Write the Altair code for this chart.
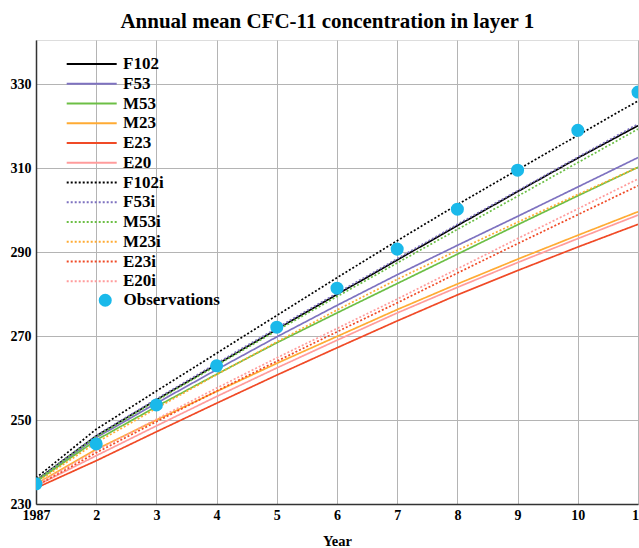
import altair as alt
import pandas as pd

years = list(range(1, 12))
year_labels = ["1987", "2", "3", "4", "5", "6", "7", "8", "9", "10", "11"]

series_names = ["F102", "F53", "M53", "M23", "E23", "E20",
                "F102i", "F53i", "M53i", "M23i", "E23i", "E20i"]
series_colors = ["#000000", "#7e72c0", "#6cbf45", "#ffab33", "#f04a26", "#ff9c9c",
                 "#000000", "#7e72c0", "#6cbf45", "#ffab33", "#f04a26", "#ff9c9c"]

F102 = [235.6, 246.2, 254.8, 263.2, 271.6, 279.9, 288.1, 296.3, 304.4, 312.4, 320.1]
F53 = [235.4, 245.8, 254.0, 262.0, 269.8, 277.3, 284.6, 291.6, 298.5, 305.5, 312.5]
M53 = [235.3, 245.2, 253.2, 260.9, 268.4, 275.5, 282.5, 289.5, 296.5, 303.4, 310.2]
M23 = [234.8, 243.0, 250.0, 256.8, 263.5, 269.9, 276.3, 282.4, 288.3, 294.0, 299.6]
E23 = [233.8, 240.3, 247.2, 254.0, 260.7, 267.2, 273.6, 279.8, 285.6, 291.2, 296.6]
E20 = [234.3, 241.5, 248.6, 255.6, 262.4, 269.0, 275.5, 281.6, 287.5, 293.2, 298.8]
F102i = [236.2, 247.8, 256.9, 265.9, 274.9, 283.9, 292.7, 301.3, 309.6, 317.8, 326.0]
F53i = [235.7, 246.3, 255.0, 263.5, 271.9, 280.2, 288.4, 296.6, 304.6, 312.6, 320.5]
M53i = [235.6, 246.0, 254.6, 263.0, 271.3, 279.4, 287.4, 295.4, 303.3, 311.3, 319.3]
M23i = [235.1, 244.6, 252.8, 260.8, 268.6, 276.2, 283.5, 290.4, 297.1, 303.7, 310.2]
E23i = [234.3, 242.2, 249.6, 256.9, 264.0, 271.0, 277.9, 285.0, 292.0, 298.9, 305.8]
E20i = [234.6, 242.7, 250.2, 257.6, 264.8, 271.8, 278.8, 286.0, 293.2, 300.3, 307.4]
observations = [234.8, 244.3, 253.6, 262.9, 272.1, 281.4, 290.7, 300.2, 309.5, 319.0, 328.1]

series_values = [F102, F53, M53, M23, E23, E20, F102i, F53i, M53i, M23i, E23i, E20i]

y_ticks = [230, 250, 270, 290, 310, 330]

rows = []
for name, vals in zip(series_names, series_values):
    for yr, v in zip(years, vals):
        rows.append({"series": name, "year": yr, "value": v})
df_lines = pd.DataFrame(rows)
df_obs = pd.DataFrame({"year": years, "value": observations, "kind": "Observations"})

FONT = "Liberation Serif"
dash_range = [[1, 0]] * 6 + [[2, 2]] * 6

label_expr = "[" + ",".join("'" + s + "'" for s in year_labels) + "][datum.value - 1]"

x_enc = alt.X("year:Q",
              scale=alt.Scale(domain=[1, 11], nice=False, zero=False),
              axis=alt.Axis(values=years, labelExpr=label_expr, title="Year",
                            titleFont=FONT, titleFontSize=14.5, titleFontWeight="bold",
                            titleColor="#000", titlePadding=12,
                            labelFont=FONT, labelFontSize=14, labelFontWeight="bold",
                            labelColor="#000", labelPadding=4, ticks=False,
                            grid=True, gridColor="#b4b4b4", gridWidth=1,
                            domainColor="#333", domainWidth=1.5, labelFlush=False))
y_enc = alt.Y("value:Q",
              scale=alt.Scale(domain=[230, 340.5], nice=False, zero=False),
              axis=alt.Axis(values=y_ticks, title=None,
                            labelFont=FONT, labelFontSize=14, labelFontWeight="bold",
                            labelColor="#000", labelPadding=5, ticks=False,
                            grid=True, gridColor="#b4b4b4", gridWidth=1,
                            domainColor="#333", domainWidth=1.5))

line_legend = alt.Legend(title=None, orient="none", legendX=29.7, legendY=16,
                         symbolType="stroke", symbolSize=2500, symbolStrokeWidth=1.8,
                         clipHeight=16, rowPadding=2.75, padding=0, labelOffset=5.3,
                         labelFont=FONT, labelFontSize=17, labelFontWeight="bold",
                         labelColor="#000", labelLimit=300)

lines = alt.Chart(df_lines).mark_line(strokeWidth=1.7, clip=True).encode(
    x=x_enc, y=y_enc,
    color=alt.Color("series:N", sort=series_names,
                    scale=alt.Scale(domain=series_names, range=series_colors),
                    legend=line_legend),
    strokeDash=alt.StrokeDash("series:N", sort=series_names,
                              scale=alt.Scale(domain=series_names, range=dash_range),
                              legend=line_legend),
    order=alt.Order("year:Q"),
)

obs_legend = alt.Legend(title=None, orient="none", legendX=60.75, legendY=251.75,
                        symbolType="circle", symbolSize=170, symbolStrokeWidth=0,
                        padding=0, labelOffset=9.75,
                        labelFont=FONT, labelFontSize=17, labelFontWeight="bold",
                        labelColor="#000", labelLimit=300)

points = alt.Chart(df_obs).mark_point(filled=True, size=170, opacity=1, clip=True).encode(
    x="year:Q", y="value:Q",
    fill=alt.Fill("kind:N", scale=alt.Scale(domain=["Observations"], range=["#1ab9ea"]),
                  legend=obs_legend),
)

chart = alt.layer(lines, points).properties(
    width=602, height=464,
    title=alt.TitleParams("Annual mean CFC-11 concentration in layer 1",
                          font=FONT, fontSize=21, fontWeight="bold", color="#000",
                          anchor="middle", frame="bounds", offset=8),
    autosize=alt.AutoSizeParams(type="none"),
    padding={"left": 36, "top": 40, "right": 1, "bottom": 44},
).configure_view(stroke="#222", strokeWidth=1.5).configure(background="white")

chart.save("out.html", embed_options={"renderer": "svg", "actions": False})
